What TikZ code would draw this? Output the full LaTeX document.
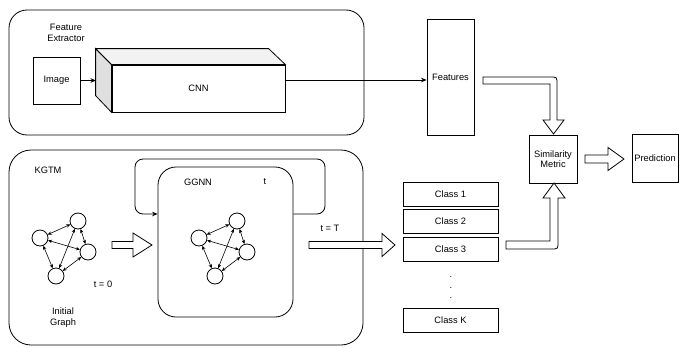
\documentclass[tikz,border=0pt]{standalone}
\usepackage{fontspec}
\setmainfont{Liberation Sans}
\usetikzlibrary{arrows.meta}
\begin{document}
\begin{tikzpicture}[x=1pt,y=-1pt, line width=0.8pt,
  every node/.style={font=\fontsize{9.3}{11.5}\selectfont, inner sep=0pt},
  box/.style={draw, fill=white},
  lbl/.style={align=center},
  conn/.style={-{Stealth[length=5.5pt,width=4.5pt]}},
  gnode/.style={draw, circle, minimum size=16pt},
  gedge/.style={line width=0.6pt, {Stealth[length=4pt,width=3.4pt]}-{Stealth[length=4pt,width=3.4pt]}},
  blockarrow/.style={draw, fill=white, line join=miter}
]
\useasboundingbox (0,0) rectangle (683,348);

% ---------- Feature extractor ----------
\node[box, rounded corners=18pt, minimum width=355pt, minimum height=125pt] (fe) at (186.5,72.5) {};
\node[lbl] (fetitle) at (66,33) {Feature\\Extractor};
\node[box, minimum width=47pt, minimum height=47pt] (img) at (56.5,80.5) {Image};

\node[box, minimum width=173pt, minimum height=47pt] (cnn) at (198.5,88.5) {CNN};
\draw[fill=gray!25] (cnn.north west) -- ++(-16,-16) -- ++(0,47) -- (cnn.south west) -- cycle;
\draw[fill=gray!10] (cnn.north west) -- ++(-16,-16) -- ++(173,0) -- (cnn.north east) -- cycle;
\coordinate (cnnin) at (96,80.5);
\draw[conn] (img.east) -- (cnnin);

\node[box, minimum width=47pt, minimum height=116pt] (feat) at (450.5,77) {Features};
\coordinate (y80) at (0,80);
\draw[conn] (cnn.east |- y80) -- (feat.west |- y80);

% ---------- Similarity / Prediction ----------
\node[box, minimum width=48pt, minimum height=48pt, lbl, font=\fontsize{9.3}{10.5}\selectfont] (sim) at (553,159) {Similarity\\Metric};
\node[box, minimum width=46pt, minimum height=48pt] (pred) at (655,158) {Prediction};

% Features -> Similarity block arrow
\draw[blockarrow] (483,84) -- (483,77) -- (550,77) .. controls (557,77) .. (557,84)
  -- (557,120) -- (564,120) -- (553.5,134) -- (543,120) -- (550,120) -- (550,84) -- cycle;
% Class 3 -> Similarity block arrow
\draw[blockarrow] (506,241) -- (550,241) -- (550,198) -- (543,198) -- (554,183) -- (565,198)
  -- (558,198) -- (558,242) .. controls (558,249) .. (551,249) -- (506,249) -- cycle;
% Similarity -> Prediction block arrow
\draw[blockarrow] (585,155) -- (608,155) -- (608,147.5) -- (624,159) -- (608,170.5) -- (608,163) -- (585,163) -- cycle;

% ---------- Classes ----------
\node[box, minimum width=95pt, minimum height=24pt] (cls1) at (450.5,194) {Class 1};
\node[box, minimum width=95pt, minimum height=24pt] (cls2) at (450.5,221.5) {Class 2};
\node[box, minimum width=95pt, minimum height=24pt] (cls3) at (450.5,249) {Class 3};
\node[box, minimum width=95pt, minimum height=24pt] (clsK) at (450.5,320) {Class K};
\node (dot1) at (451,277) {.};
\node (dot2) at (451,287.5) {.};
\node (dot3) at (451,298) {.};

% ---------- KGTM ----------
\node[box, rounded corners=22pt, minimum width=354pt, minimum height=195pt] (kgtm) at (186,247.5) {};
\node (kgtmlbl) at (48,170) {KGTM};

\node[box, rounded corners=18pt, minimum width=135pt, minimum height=150pt] (ggnn) at (225.5,242) {};
\node (ggnnlbl) at (198,182) {GGNN};
\node (tlbl) at (265,182) {t};

\coordinate (loopy) at (0,214);
\draw[conn, rounded corners=8pt] (ggnn.east |- loopy) -| (325,159) -| (135,214) -- (ggnn.west |- loopy);

% initial graph
\node[gnode] (ga1) at (40,238) {};
\node[gnode] (gb1) at (78,221) {};
\node[gnode] (gc1) at (88,252) {};
\node[gnode] (gd1) at (56,276) {};
\draw[gedge] (ga1) -- (gb1);
\draw[gedge] (gb1) -- (gc1);
\draw[gedge] (ga1) -- (gc1);
\draw[gedge] (ga1) -- (gd1);
\draw[gedge] (gd1) -- (gc1);
\draw[gedge] (gd1) -- (gb1);

% GGNN graph
\node[gnode] (ga2) at (199,238) {};
\node[gnode] (gb2) at (237,221) {};
\node[gnode] (gc2) at (247,252) {};
\node[gnode] (gd2) at (215,276) {};
\draw[gedge] (ga2) -- (gb2);
\draw[gedge] (gb2) -- (gc2);
\draw[gedge] (ga2) -- (gc2);
\draw[gedge] (ga2) -- (gd2);
\draw[gedge] (gd2) -- (gc2);
\draw[gedge] (gd2) -- (gb2);

\node (t0) at (103,284) {t = 0};
\node[lbl] (initlbl) at (63,317.5) {Initial\\Graph};

% initial graph -> GGNN block arrow
\draw[blockarrow] (112,241.5) -- (133,241.5) -- (133,233) -- (152,245) -- (133,257) -- (133,248.5) -- (112,248.5) -- cycle;
% GGNN -> classes block arrow
\draw[blockarrow] (309,241.5) -- (382,241.5) -- (382,233.5) -- (395,245) -- (382,256.5) -- (382,248.5) -- (309,248.5) -- cycle;
\node (tT) at (330,228) {t = T};
\end{tikzpicture}
\end{document}
